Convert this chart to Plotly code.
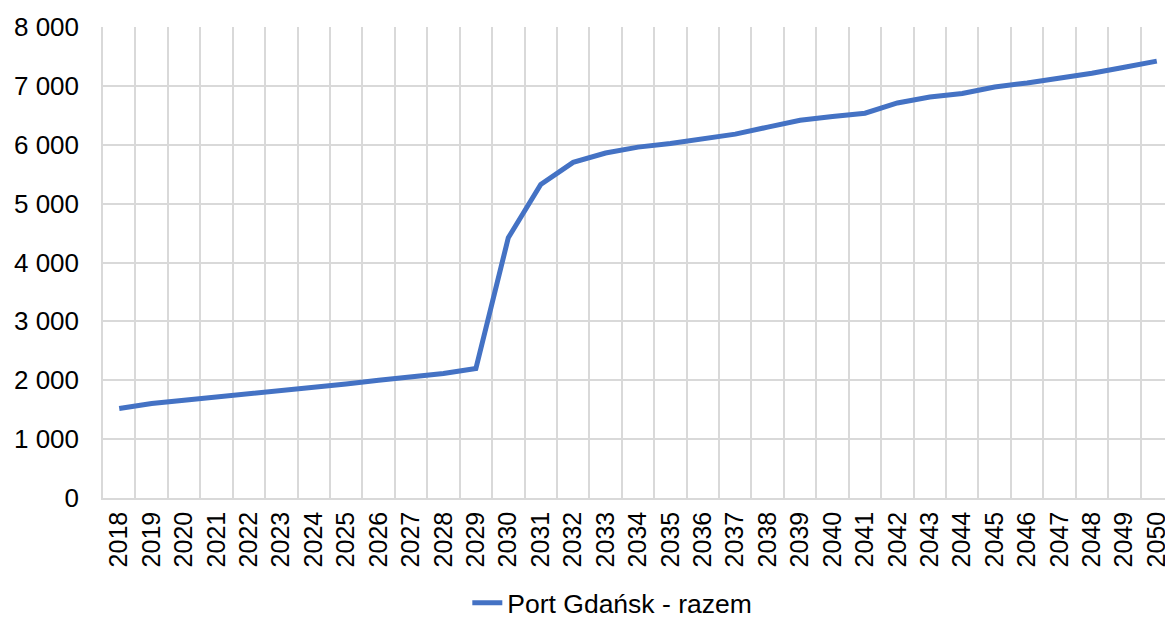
import plotly.graph_objects as go

years = [str(y) for y in range(2018, 2051)]
values = [1520, 1605, 1660, 1712, 1766, 1823, 1880, 1936, 2000, 2058, 2115, 2200,
          4420, 5325, 5700, 5860, 5960, 6020, 6090, 6180, 6300, 6415, 6480, 6535,
          6710, 6810, 6870, 6980, 7050, 7130, 7215, 7315, 7420]
series_name = "Port Gdańsk - razem"

FONT = "Liberation Sans, Arial, sans-serif"

fig = go.Figure()
fig.add_trace(go.Scatter(
    x=years, y=values, mode="lines", name=series_name,
    line=dict(color="#4472C4", width=5),
))

fig.update_layout(
    width=1165, height=618,
    margin=dict(l=95, r=0, t=19, b=128, autoexpand=False),
    paper_bgcolor="white", plot_bgcolor="white",
    separators=", ",
    font=dict(family=FONT, size=26, color="#000000"),
    showlegend=True,
    legend=dict(orientation="h", x=0.476, xanchor="center", y=-0.223, yanchor="middle",
                font=dict(size=26.5), bgcolor="rgba(0,0,0,0)"),
    xaxis=dict(
        type="category", tickson="boundaries", range=[-0.5, 32.5],
        showgrid=True, gridcolor="#D9D9D9", gridwidth=1.5,
        showline=True, linecolor="#D9D9D9", linewidth=1.5,
        ticks="", tickangle=-90, tickfont=dict(size=25),
        ticklabelstandoff=2, mirror=False, automargin=False,
    ),
    yaxis=dict(
        range=[0, 8000], dtick=1000, tickformat=",d",
        showgrid=True, gridcolor="#D9D9D9", gridwidth=1.5,
        zeroline=False, showline=True, linecolor="#D9D9D9", linewidth=1.5,
        ticks="", tickfont=dict(size=26), ticklabelstandoff=17, automargin=False,
    ),
)

fig.write_html("out.html")
